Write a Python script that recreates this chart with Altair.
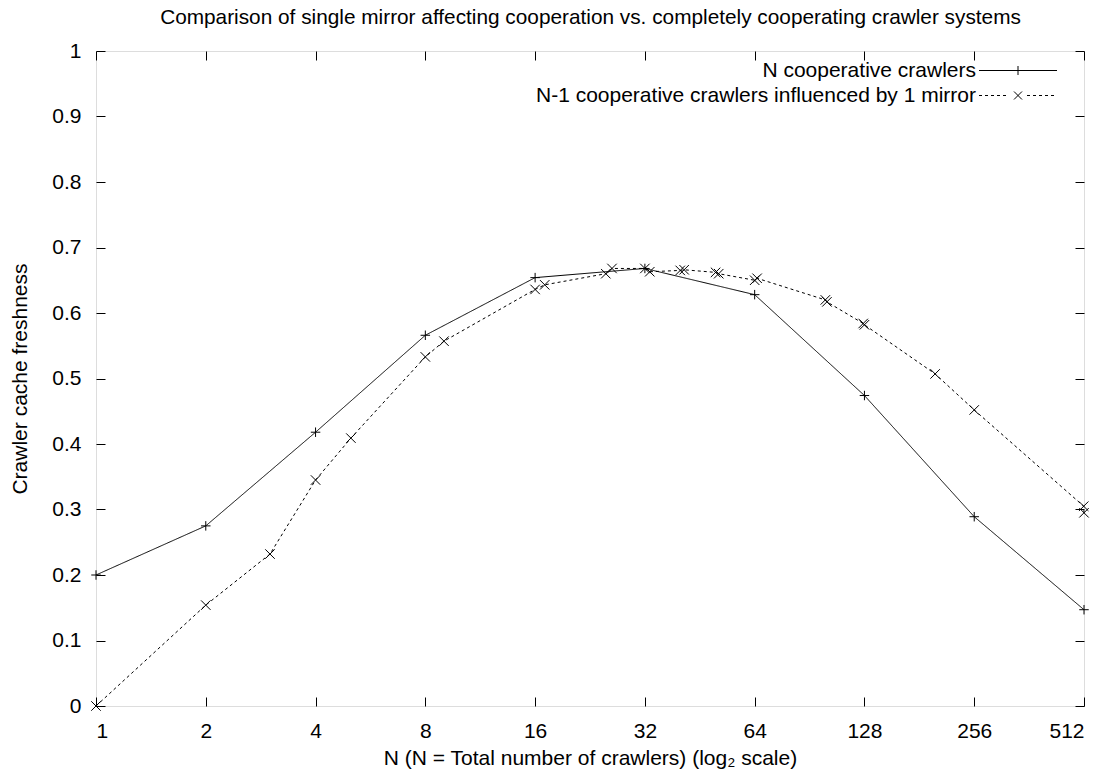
import altair as alt
import pandas as pd

# Freshness with N fully cooperating crawlers
n_full = [1, 2, 4, 8, 16, 32, 64, 128, 256, 512]
fresh_full = [0.200, 0.275, 0.418, 0.566, 0.654, 0.668, 0.628, 0.474, 0.289, 0.147]

# Freshness with N-1 cooperating crawlers and one mirror
n_mirror = [1, 2, 3, 4, 5, 8, 9, 16, 17, 25, 26, 32, 33, 40, 41, 50, 51,
            64, 65, 100, 101, 127, 128, 200, 256, 511, 512]
fresh_mirror = [0.000, 0.154, 0.232, 0.345, 0.409, 0.533, 0.557, 0.636, 0.643,
                0.660, 0.668, 0.668, 0.663, 0.665, 0.666, 0.662, 0.660,
                0.650, 0.653, 0.620, 0.617, 0.584, 0.582, 0.507, 0.452,
                0.305, 0.295]

series_names = ["N cooperative crawlers",
                "N-1 cooperative crawlers influenced by 1 mirror"]
x_ticks = [1, 2, 4, 8, 16, 32, 64, 128, 256, 512]
y_ticks = [0, 0.1, 0.2, 0.3, 0.4, 0.5, 0.6, 0.7, 0.8, 0.9, 1.0]

chart_title = ("Comparison of single mirror affecting cooperation vs. "
               "completely cooperating crawler systems")
x_title = "N (N = Total number of crawlers) (log\u2082 scale)"
y_title = "Crawler cache freshness"

FONT = "Liberation Sans"
FS = 21
W, H = 988, 655

df = pd.concat([
    pd.DataFrame({"series": series_names[0], "n": n_full, "freshness": fresh_full}),
    pd.DataFrame({"series": series_names[1], "n": n_mirror, "freshness": fresh_mirror}),
], ignore_index=True)
df["idx"] = range(len(df))

# point symbols drawn as stroked paths
plus_path = "M-1,0H1M0,-1V1"
cross_path = "M-1,-1L1,1M-1,1L1,-1"

# legend samples (unit = 10 px): a line to the right of the label,
# with the series marker in the middle of it
L0, L1, MID = 1.35, 9.15, 5.25
legend_plus = f"M{L0},0H{L1}M{MID},-0.45V0.45"
segs = []
t = L0
while t < L1:
    a, b = t, min(t + 0.3, L1)
    if not (b > MID - 0.7 and a < MID + 0.7):
        segs.append(f"M{a:.2f},0H{b:.2f}")
    t += 0.6
legend_cross = ("".join(segs)
                + f"M{MID - 0.4},-0.4L{MID + 0.4},0.4M{MID - 0.4},0.4L{MID + 0.4},-0.4")

tick_grid = dict(grid=True, gridDash=[9, 3000], gridColor="black",
                 gridWidth=1, gridOpacity=1, ticks=False, tickSize=0, domain=False)

x_scale = alt.Scale(type="log", base=2, domain=[1, 512], nice=False)
y_scale = alt.Scale(domain=[0, 1], nice=False, zero=False)

lines = alt.Chart(df).mark_line(color="black", strokeWidth=1).encode(
    x=alt.X("n:Q", scale=x_scale,
            axis=alt.Axis(orient="bottom", values=x_ticks, format="d",
                          title=x_title, labelPadding=14, labelFontSize=FS,
                          labelFont=FONT, labelColor="black",
                          titleFont=FONT, titleFontSize=FS, titleFontWeight="normal",
                          titleColor="black", titleX=W / 2, titleY=52,
                          titleAlign="center", titleBaseline="middle", **tick_grid)),
    y=alt.Y("freshness:Q", scale=y_scale,
            axis=alt.Axis(orient="left", values=y_ticks, format="~g",
                          title=y_title, labelPadding=15, labelFontSize=FS,
                          labelFont=FONT, labelColor="black",
                          titleFont=FONT, titleFontSize=FS, titleFontWeight="normal",
                          titleColor="black", titleX=-76, titleY=H / 2,
                          titleAngle=270, titleAlign="center",
                          titleBaseline="middle", **tick_grid)),
    strokeDash=alt.StrokeDash("series:N", legend=None,
                              scale=alt.Scale(domain=series_names,
                                              range=[[1, 0], [3, 3]])),
    detail="series:N",
    order="idx:Q",
)

# mirrored tick marks on the top and right borders; the chart title sits on the top axis
points = alt.Chart(df).mark_point(filled=False, color="black", strokeWidth=1,
                                  opacity=1, size=90).encode(
    x=alt.X("n:Q", scale=x_scale,
            axis=alt.Axis(orient="top", values=x_ticks, labels=False,
                          title=chart_title, titleFont=FONT, titleFontSize=20.8,
                          titleFontWeight="normal", titleColor="black",
                          titleX=W / 2, titleY=-28, titleAlign="center",
                          titleBaseline="alphabetic", **tick_grid)),
    y=alt.Y("freshness:Q", scale=y_scale,
            axis=alt.Axis(orient="right", values=y_ticks, labels=False, title=None,
                          **tick_grid)),
    shape=alt.Shape("series:N", legend=None,
                    scale=alt.Scale(domain=series_names, range=[plus_path, cross_path])),
)

# legend entries: right-aligned text followed by the line sample
key = alt.Chart(df).mark_point(filled=False, color="black", strokeWidth=1,
                               opacity=0, size=400).encode(
    x=alt.X("n:Q", scale=x_scale, axis=None),
    y=alt.Y("freshness:Q", scale=y_scale, axis=None),
    shape=alt.Shape("series:N",
                    scale=alt.Scale(domain=series_names, range=[legend_plus, legend_cross]),
                    legend=alt.Legend(orient="none", legendX=859, legendY=9,
                                      title=None, padding=0, labelAlign="right",
                                      labelOffset=0, symbolOffset=0,
                                      labelFont=FONT,
                                      labelFontSize=FS, labelColor="black",
                                      labelLimit=900, symbolSize=400,
                                      symbolStrokeColor="black", symbolStrokeWidth=1,
                                      symbolFillColor="transparent", symbolOpacity=1,
                                      rowPadding=3)),
)

chart = alt.layer(lines, points, key).resolve_axis(
    x="independent", y="independent"
).resolve_scale(shape="independent").properties(
    width=W, height=H,
    autosize=alt.AutoSizeParams(type="none"),
    padding={"left": 96, "top": 51, "right": 23, "bottom": 69},
).configure_view(stroke="black", strokeWidth=1.5).configure(background="white")

chart.save("out.html", embed_options={"renderer": "svg", "actions": False})
